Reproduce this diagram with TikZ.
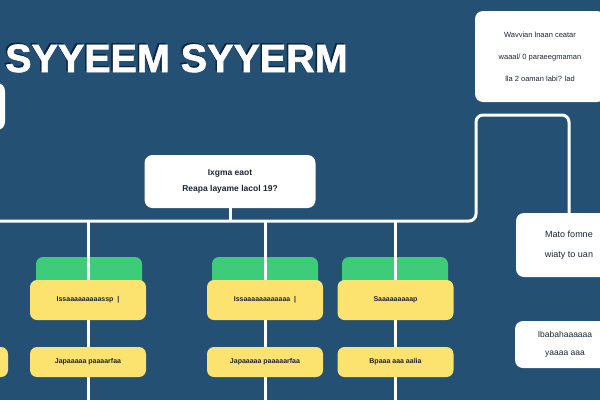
\documentclass[tikz,border=0pt]{standalone}
\usepackage{fontspec}
\setmainfont{Liberation Sans}[BoldFont={Liberation Sans Bold}]
\newfontfamily\headfont{Liberation Sans Bold}[FakeBold=1.6]
\definecolor{bg}{RGB}{36,80,115}
\definecolor{ink}{RGB}{28,37,51}
\definecolor{shade}{RGB}{14,34,60}
\definecolor{folderyellow}{RGB}{252,226,110}
\definecolor{foldergreen}{RGB}{62,204,122}
\pgfdeclarelayer{back}
\pgfdeclarelayer{tabs}
\pgfdeclarelayer{wires}
\pgfsetlayers{back,tabs,wires,main}
\tikzset{
  card/.style={fill=white, rounded corners=8pt, inner sep=0pt, text=ink, align=center},
  body/.style={fill=folderyellow, rounded corners=7pt, inner sep=0pt, text=ink,
               minimum width=116pt, minimum height=40pt, font=\fontsize{7}{8}\selectfont\bfseries},
  sub/.style={fill=folderyellow, rounded corners=7pt, inner sep=0pt, text=ink,
              minimum width=116pt, minimum height=30pt, font=\fontsize{7}{8}\selectfont\bfseries},
  tab/.style={fill=foldergreen, rounded corners=7pt, inner sep=0pt,
              minimum width=106pt, minimum height=35pt},
  wire/.style={draw=white, line width=3pt},
  heading/.style={anchor=base west, inner sep=0pt, font=\fontsize{39.5}{40}\headfont}
}
\begin{document}
\begin{tikzpicture}[x=1pt,y=-1pt]
\useasboundingbox (0,0) rectangle (600,400);
\clip (0,0) rectangle (600,400);
\begin{pgfonlayer}{back}
  \fill[bg] (0,0) rectangle (600,400);
\end{pgfonlayer}

% title with a dark drop shadow
\node[heading, text=shade] (titleshadow) at (3.5,70.5) {SYYEEM SYYERM};
\node[heading, text=white] (title) at (5,72) {SYYEEM SYYERM};

% white cards
\node[card, minimum width=46pt, minimum height=47pt] (lfrag) at (-18,106.5) {};
\node[card, minimum width=130pt, minimum height=91pt, font=\fontsize{7.5}{22}\selectfont]
  (note) at (540,56.5) {Wavvian lnaan ceatar\\waaal/ 0 paraeegmaman\\lla 2 oaman labi? lad};
\node[card, minimum width=171pt, minimum height=53pt, font=\fontsize{8.5}{16}\selectfont\bfseries]
  (mid) at (230,181.5) {Ixgma eaot\\Reapa layame lacol 19?};
\node[card, minimum width=106pt, minimum height=64pt, font=\fontsize{9}{20}\selectfont]
  (mato) at (569,245) {Mato fomne\\wiaty to uan};
\node[card, minimum width=100pt, minimum height=47pt, font=\fontsize{8.5}{18}\selectfont]
  (lower) at (565,344.5) {Ibabahaaaaaa\\yaaaa aaa};

% folders: yellow bodies and sub boxes
\node[body] (f1body) at (88,300) {Issaaaaaaaaassp\ \ |};
\node[body] (f2body) at (265,300) {Issaaaaaaaaaaaa\ \ |};
\node[body] (f3body) at (395.5,300) {Saaaaaaaaap};
\node[sub] (f1sub) at (88,362) {Japaaaaa paaaarfaa};
\node[sub] (f2sub) at (265,362) {Japaaaaa paaaaarfaa};
\node[sub] (f3sub) at (395.5,362) {Bpaaa aaa aalia};
\node[sub, minimum width=48pt] (lsub) at (-16,362) {};

% green folder tabs behind the bodies
\begin{pgfonlayer}{tabs}
  \node[tab] (f1tab) at (89,274.5) {};
  \node[tab] (f2tab) at (265,274.5) {};
  \node[tab] (f3tab) at (395,274.5) {};
\end{pgfonlayer}

% connectors
\coordinate (hub) at (230,221);
\coordinate (wwest) at (-6,221);
\coordinate (bend) at (476,221);
\coordinate (looptop) at (569,115);
\begin{pgfonlayer}{wires}
  \draw[wire] (mid.south) -- (hub);
  \draw[wire, rounded corners=7pt] (wwest) -- (bend) |- (looptop) -- (mato.north);
  \foreach \f in {f1,f2,f3} {
    \draw[wire] (\f body.north |- hub) -- (\f body.north);
    \draw[wire] (\f body.south) -- (\f sub.north);
    \draw[wire] (\f sub.south) -- ++(0,30);
  }
\end{pgfonlayer}
\end{tikzpicture}
\end{document}
